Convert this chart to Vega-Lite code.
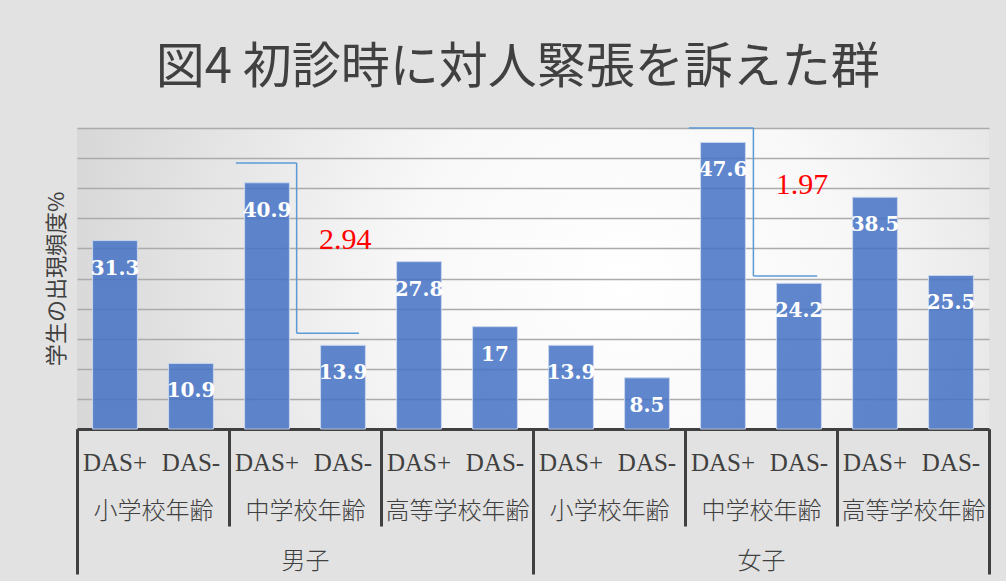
{
  "$schema": "https://vega.github.io/schema/vega-lite/v6.json",
  "width": 912,
  "height": 301,
  "padding": {"left": 45, "top": 44, "right": 15, "bottom": 5},
  "background": "#e2e2e2",
  "title": {
    "text": "図4 初診時に対人緊張を訴えた群",
    "font": "Noto Sans CJK JP",
    "fontSize": 49,
    "fontWeight": "normal",
    "color": "#404040",
    "anchor": "middle",
    "frame": "bounds",
    "offset": 34
  },
  "config": {
    "view": {
      "stroke": null,
      "fill": {
        "gradient": "radial",
        "x1": 0.6, "y1": 0.5, "r1": 0,
        "x2": 0.6, "y2": 0.5, "r2": 0.68,
        "stops": [
          {"offset": 0, "color": "#ffffff"},
          {"offset": 0.35, "color": "#f8f8f8"},
          {"offset": 1, "color": "#d2d2d2"}
        ]
      }
    },
    "axisY": {
      "titleFont": "Noto Sans CJK JP", "titleFontSize": 22,
      "titleFontWeight": "normal", "titleColor": "#404040", "titlePadding": 9,
      "labels": false, "ticks": false, "domain": false, "grid": true,
      "gridColor": "#ababab", "gridWidth": 1.5
    }
  },
  "datasets": {
    "bars": [
      {"key": "男子 小学校年齢 DAS+", "grp": "男子 小学校年齢", "sex": "男子", "pct": 31.3},
      {"key": "男子 小学校年齢 DAS-", "grp": "男子 小学校年齢", "sex": "男子", "pct": 10.9},
      {"key": "男子 中学校年齢 DAS+", "grp": "男子 中学校年齢", "sex": "男子", "pct": 40.9},
      {"key": "男子 中学校年齢 DAS-", "grp": "男子 中学校年齢", "sex": "男子", "pct": 13.9},
      {"key": "男子 高等学校年齢 DAS+", "grp": "男子 高等学校年齢", "sex": "男子", "pct": 27.8},
      {"key": "男子 高等学校年齢 DAS-", "grp": "男子 高等学校年齢", "sex": "男子", "pct": 17},
      {"key": "女子 小学校年齢 DAS+", "grp": "女子 小学校年齢", "sex": "女子", "pct": 13.9},
      {"key": "女子 小学校年齢 DAS-", "grp": "女子 小学校年齢", "sex": "女子", "pct": 8.5},
      {"key": "女子 中学校年齢 DAS+", "grp": "女子 中学校年齢", "sex": "女子", "pct": 47.6},
      {"key": "女子 中学校年齢 DAS-", "grp": "女子 中学校年齢", "sex": "女子", "pct": 24.2},
      {"key": "女子 高等学校年齢 DAS+", "grp": "女子 高等学校年齢", "sex": "女子", "pct": 38.5},
      {"key": "女子 高等学校年齢 DAS-", "grp": "女子 高等学校年齢", "sex": "女子", "pct": 25.5}
    ],
    "brackets": [
      {"xa": 2.09, "xb": 2.89, "ya": 44.2, "yb": 44.2},
      {"xa": 2.89, "xb": 2.89, "ya": 44.2, "yb": 15.9},
      {"xa": 2.89, "xb": 3.71, "ya": 15.9, "yb": 15.9},
      {"xa": 8.05, "xb": 8.9, "ya": 50, "yb": 50},
      {"xa": 8.9, "xb": 8.9, "ya": 50, "yb": 25.4},
      {"xa": 8.9, "xb": 9.74, "ya": 25.4, "yb": 25.4}
    ],
    "sig": [
      {"xs": 3.53, "ys": 31.4, "t": "2.94"},
      {"xs": 9.54, "ys": 40.6, "t": "1.97"}
    ]
  },
  "layer": [
    {
      "data": {"name": "bars"},
      "encoding": {
        "x": {
          "field": "key", "type": "nominal", "sort": null,
          "scale": {"type": "band", "paddingInner": 0.41, "paddingOuter": 0.205},
          "axis": {
            "title": null, "labelExpr": "split(datum.value, ' ')[2]", "labelAngle": 0,
            "labelFont": "Liberation Serif", "labelFontSize": 25, "labelColor": "#404040",
            "labelPadding": 21, "ticks": false, "domain": true, "domainColor": "#404040",
            "domainWidth": 3, "grid": false
          }
        },
        "y": {
          "field": "pct", "type": "quantitative",
          "scale": {"domain": [0, 50], "nice": false},
          "axis": {"title": "学生の出現頻度%", "values": [5, 10, 15, 20, 25, 30, 35, 40, 45, 50]}
        }
      },
      "layer": [
        {"mark": {"type": "bar", "fill": "#4472c4", "fillOpacity": 0.85, "stroke": "#c8d5ee", "strokeWidth": 1}},
        {
          "mark": {"type": "text", "dy": 28, "baseline": "middle", "fill": "#ffffff", "font": "DejaVu Serif", "fontWeight": "bold", "fontSize": 20},
          "encoding": {"text": {"field": "pct", "type": "quantitative"}}
        }
      ]
    },
    {
      "data": {"name": "bars"},
      "mark": {"type": "rule", "opacity": 0},
      "encoding": {
        "x": {
          "field": "grp", "type": "nominal", "sort": null,
          "scale": {"type": "band", "paddingInner": 0, "paddingOuter": 0},
          "axis": {
            "title": null, "orient": "bottom", "offset": 0,
            "labelExpr": "split(datum.value, ' ')[1]", "labelAngle": 0,
            "labelFont": "Noto Sans CJK JP", "labelFontSize": 24, "labelFontWeight": 300, "labelColor": "#404040",
            "labelPadding": -27, "ticks": true, "tickBand": "extent", "tickSize": 97,
            "tickWidth": 3, "tickColor": "#404040", "domain": false, "grid": false
          }
        }
      }
    },
    {
      "data": {"name": "bars"},
      "mark": {"type": "rule", "opacity": 0},
      "encoding": {
        "x": {
          "field": "sex", "type": "nominal", "sort": null,
          "scale": {"type": "band", "paddingInner": 0, "paddingOuter": 0},
          "axis": {
            "title": null, "orient": "bottom", "offset": 0, "labelAngle": 0,
            "labelFont": "Noto Sans CJK JP", "labelFontSize": 24, "labelFontWeight": 300, "labelColor": "#404040",
            "labelPadding": -25, "ticks": true, "tickBand": "extent", "tickSize": 145,
            "tickWidth": 3, "tickColor": "#404040", "domain": false, "grid": false
          }
        }
      }
    },
    {
      "layer": [
        {
          "data": {"name": "brackets"},
          "mark": {"type": "rule", "color": "#5b9bd5", "strokeWidth": 1.5},
          "encoding": {
            "x": {"field": "xa", "type": "quantitative", "scale": {"domain": [0, 12], "nice": false, "zero": false}, "axis": null},
            "x2": {"field": "xb"},
            "y": {"field": "ya", "type": "quantitative", "scale": {"domain": [0, 50], "nice": false},
                  "axis": {"title": "学生の出現頻度%", "values": [5, 10, 15, 20, 25, 30, 35, 40, 45, 50]}},
            "y2": {"field": "yb"}
          }
        },
        {
          "data": {"name": "sig"},
          "mark": {"type": "text", "baseline": "middle", "fill": "#ff0000", "font": "Liberation Serif", "fontSize": 30},
          "encoding": {
            "x": {"field": "xs", "type": "quantitative", "scale": {"domain": [0, 12], "nice": false, "zero": false}, "axis": null},
            "y": {"field": "ys", "type": "quantitative", "scale": {"domain": [0, 50], "nice": false},
                  "axis": {"title": "学生の出現頻度%", "values": [5, 10, 15, 20, 25, 30, 35, 40, 45, 50]}},
            "text": {"field": "t", "type": "nominal"}
          }
        }
      ]
    }
  ],
  "resolve": {"scale": {"x": "independent"}, "axis": {"x": "independent"}}
}
